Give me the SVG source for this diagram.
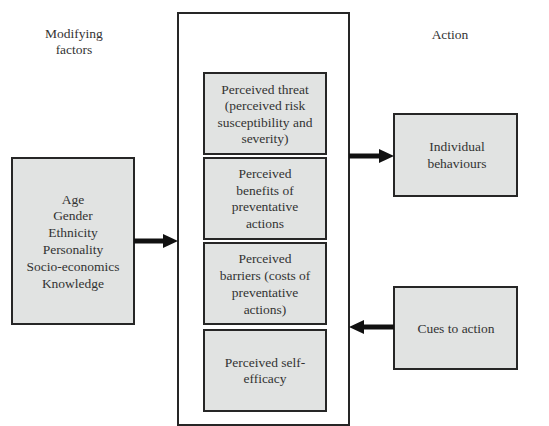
<svg xmlns="http://www.w3.org/2000/svg" width="549" height="426" viewBox="0 0 549 426">
<style>
.box{fill:#e1e3e2;stroke:#262626;stroke-width:2}
.frame{fill:#fff;stroke:#262626;stroke-width:2}
text{font-family:"Liberation Serif","Times New Roman",serif;font-size:13.5px;fill:#333;text-anchor:middle}
.arr{stroke:#111;stroke-width:5;fill:none}
.head{fill:#111}
</style>
<rect width="549" height="426" fill="#fff"/>
<g id="headers">
<text x="74" y="38">Modifying</text>
<text x="74" y="54">factors</text>
<text x="266" y="39">Individual beliefs</text>
<text x="450" y="39">Action</text>
</g>
<g id="beliefs-frame"><rect class="frame" x="178" y="13" width="171" height="412"/></g>
<g id="modifying">
<rect class="box" x="12" y="158" width="122" height="166"/>
<text x="73" y="204">Age</text>
<text x="73" y="220">Gender</text>
<text x="73" y="237">Ethnicity</text>
<text x="73" y="254">Personality</text>
<text x="73" y="271">Socio-economics</text>
<text x="73" y="288">Knowledge</text>
</g>
<g id="threat">
<rect class="box" x="204" y="73" width="122" height="81"/>
<text x="265" y="94">Perceived threat</text>
<text x="265" y="110">(perceived risk</text>
<text x="265" y="127">susceptibility and</text>
<text x="265" y="143">severity)</text>
</g>
<g id="benefits">
<rect class="box" x="204" y="158" width="122" height="81"/>
<text x="265" y="178">Perceived</text>
<text x="265" y="195">benefits of</text>
<text x="265" y="211">preventative</text>
<text x="265" y="228">actions</text>
</g>
<g id="barriers">
<rect class="box" x="204" y="243" width="122" height="81"/>
<text x="265" y="263">Perceived</text>
<text x="265" y="280">barriers (costs of</text>
<text x="265" y="297">preventative</text>
<text x="265" y="314">actions)</text>
</g>
<g id="selfefficacy">
<rect class="box" x="204" y="330" width="122" height="81"/>
<text x="265" y="367">Perceived self-</text>
<text x="265" y="383">efficacy</text>
</g>
<g id="behaviours">
<rect class="box" x="394" y="114" width="123" height="82"/>
<text x="457" y="151">Individual</text>
<text x="457" y="168">behaviours</text>
</g>
<g id="cues">
<rect class="box" x="394" y="287" width="123" height="82"/>
<text x="456" y="333">Cues to action</text>
</g>
<g id="connectors">
<line class="arr" x1="134" y1="241" x2="164" y2="241"/>
<polygon class="head" points="163,234 178,241 163,248"/>
<line class="arr" x1="349" y1="156" x2="380" y2="156"/>
<polygon class="head" points="379,149 394,156 379,163"/>
<line class="arr" x1="394" y1="327" x2="362" y2="327"/>
<polygon class="head" points="364,320 349,327 364,334"/>
</g>
</svg>
